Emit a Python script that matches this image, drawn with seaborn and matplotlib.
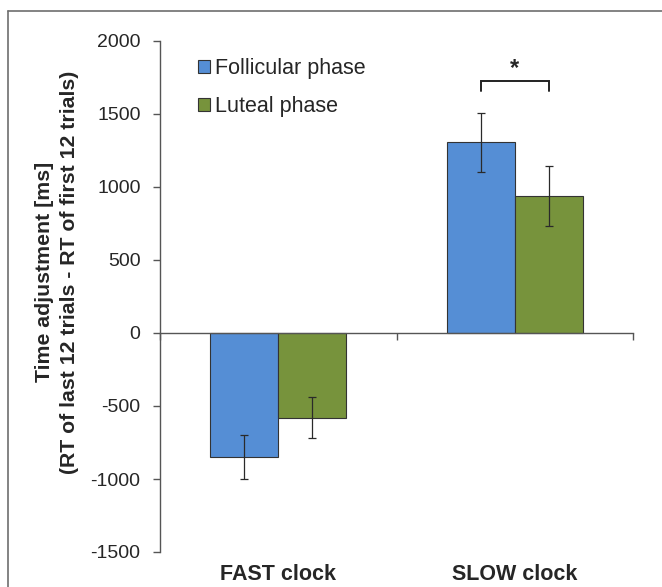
import matplotlib
matplotlib.use("Agg")
import matplotlib.pyplot as plt
from matplotlib.lines import Line2D
from matplotlib.patches import Patch
import seaborn as sns
import pandas as pd

# ---- data ----
categories = ["FAST clock", "SLOW clock"]
phases = ["Follicular phase", "Luteal phase"]
follicular_mean = [-850, 1305]
luteal_mean = [-580, 937]
follicular_err = [152, 199]
luteal_err = [139, 207]
yticks = [-1500, -1000, -500, 0, 500, 1000, 1500, 2000]
ylabel = "Time adjustment [ms]\n(RT of last 12 trials - RT of first 12 trials)"
sig_label = "*"
sig_low, sig_high, sig_text_y = 1655, 1723, 1810

colors = {"Follicular phase": "#558ED5", "Luteal phase": "#77933C"}

df = pd.DataFrame({
    "category": categories * 2,
    "phase": [phases[0]] * 2 + [phases[1]] * 2,
    "value": follicular_mean + luteal_mean,
})
errs = {phases[0]: follicular_err, phases[1]: luteal_err}
means = {phases[0]: follicular_mean, phases[1]: luteal_mean}

sns.set_theme(style="white")
plt.rcParams["font.family"] = ["Liberation Sans", "DejaVu Sans"]

fig = plt.figure(figsize=(6.62, 5.87), dpi=100)
ax = fig.add_axes([160 / 662, 1 - 552 / 587, (633.3 - 160) / 662, (552 - 41) / 587])

sns.barplot(data=df, x="category", y="value", hue="phase", order=categories,
            hue_order=phases, palette=colors, width=0.575, gap=0,
            edgecolor="#333333", linewidth=0.8, saturation=1, ax=ax,
            legend=False, errorbar=None)

# error bars at bar centres
for container, ph in zip(ax.containers, phases):
    xs = [b.get_x() + b.get_width() / 2 for b in container]
    ax.errorbar(xs, means[ph], yerr=errs[ph], fmt="none", ecolor="#2a2a2a",
                elinewidth=0.9, capsize=3.2, capthick=0.9, zorder=5)

# significance bracket on SLOW clock
slow_idx = categories.index("SLOW clock")
bx = [ax.containers[0][slow_idx].get_x() + ax.containers[0][slow_idx].get_width() / 2,
      ax.containers[1][slow_idx].get_x() + ax.containers[1][slow_idx].get_width() / 2]
ax.plot([bx[0], bx[0], bx[1], bx[1]], [sig_low, sig_high, sig_high, sig_low],
        color="#222222", lw=1.4, solid_joinstyle="miter")
ax.text(sum(bx) / 2, sig_text_y, sig_label, ha="center", va="center",
        fontsize=17, fontweight="bold")

ax.set_xlim(-0.5, 1.5)
ax.set_ylim(-1500, 2000)
ax.set_yticks(yticks)
ax.set_yticklabels([str(t) for t in yticks], fontsize=14)
ax.set_xlabel("")
ax.set_ylabel("")

for s in ["top", "right"]:
    ax.spines[s].set_visible(False)
ax.spines["bottom"].set_position(("data", 0))
for s in ["left", "bottom"]:
    ax.spines[s].set_color("#555555")
    ax.spines[s].set_linewidth(1.0)

ax.tick_params(axis="y", direction="out", length=5, width=1.0, color="#555555",
               pad=9, left=True)
ax.set_xticks([0, 1])
ax.set_xticklabels([])
ax.tick_params(axis="x", which="major", length=0)
ax.set_xticks([-0.5, 0.5, 1.5], minor=True)
ax.tick_params(axis="x", which="minor", direction="out", length=5, width=1.0,
               color="#555555", bottom=True)

for i, c in enumerate(categories):
    ax.text(i, (552 - 575) / 511, c, transform=ax.get_xaxis_transform(),
            ha="center", va="center", fontsize=15.5, fontweight="bold")

fig.text(57 / 662, 1 - 272 / 587, ylabel, rotation=90, ha="center", va="center",
         multialignment="center", fontsize=15.3, fontweight="bold", linespacing=1.45)

handles = [Patch(facecolor=colors[p], edgecolor="#333333", linewidth=0.8, label=p)
           for p in phases]
ax.legend(handles=handles, loc="upper left", bbox_to_anchor=(0.08, 0.967),
          frameon=False, fontsize=15.5, handlelength=0.55, handleheight=0.55,
          handletextpad=0.25, labelspacing=0.78, borderpad=0, borderaxespad=0)

# outer frame (cropped at right and bottom)
fig.add_artist(Line2D([8 / 662, 8 / 662], [0, 1 - 11 / 587], transform=fig.transFigure,
                      color="#6e6e6e", lw=1.2))
fig.add_artist(Line2D([8 / 662, 1], [1 - 11 / 587, 1 - 11 / 587], transform=fig.transFigure,
                      color="#6e6e6e", lw=1.2))

fig.savefig("out.png", dpi=100)
